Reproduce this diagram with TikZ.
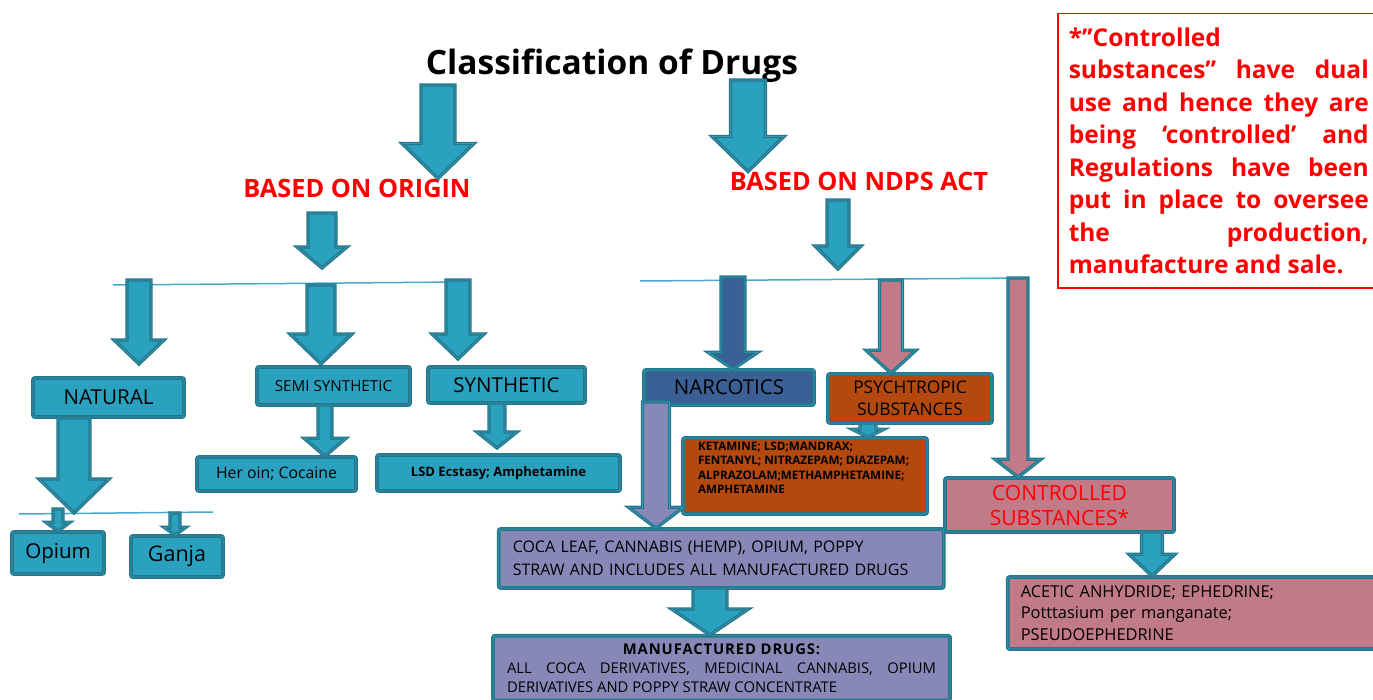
\documentclass[tikz,border=0pt]{standalone}
\usepackage{fontspec}
\setmainfont{Open Sans}
\usepackage{tikz}
\usetikzlibrary{calc}
\setlength{\parindent}{0pt}

\definecolor{tealline}{RGB}{33,120,140}
\definecolor{tealdbl}{RGB}{62,150,176}
\definecolor{tealfill}{RGB}{42,161,191}
\definecolor{narcblue}{RGB}{58,96,150}
\definecolor{lavender}{RGB}{136,136,184}
\definecolor{rust}{RGB}{180,73,15}
\definecolor{rosy}{RGB}{192,122,136}
\definecolor{barline}{RGB}{70,170,200}

\tikzstyle{box} = [draw=tealline, line width=1.5pt, double=tealdbl, double distance=0.8pt,
    rounded corners=2pt, inner sep=0pt, align=center]
\tikzstyle{fat} = [draw=tealline, line width=1.3pt, double=tealdbl, double distance=0.7pt]
\tikzstyle{bar} = [draw=barline, line width=1.5pt]

% block arrow: [fill]{from}{to}{shaft half width}{head half width}{head length}
\newcommand{\fatarrow}[6][tealfill]{%
  \filldraw[fat, fill=#1] let \p1=(#2), \p2=(#3) in
    (\x1-#4pt,\y1) -- (\x1-#4pt,\y2+#6pt) -- (\x1-#5pt,\y2+#6pt) -- (\x1,\y2)
    -- (\x1+#5pt,\y2+#6pt) -- (\x1+#4pt,\y2+#6pt) -- (\x1+#4pt,\y1) -- cycle;}

\begin{document}
\begin{tikzpicture}[x=1pt,y=-1pt]
\clip (0,0) rectangle (1373,700);
\fill[white] (0,0) rectangle (1373,700);

% headings
\node[inner sep=0pt, font=\fontsize{33.5}{38}\selectfont\bfseries] (title) at (612,66) {Classification of Drugs};
\node[inner sep=0pt, text=red, font=\fontsize{25.3}{30}\selectfont\bfseries] (origin) at (357,188) {BASED ON ORIGIN};
\node[inner sep=0pt, text=red, font=\fontsize{25.3}{30}\selectfont\bfseries] (ndps) at (859,181) {BASED ON NDPS ACT};

% bars
\coordinate (lb1) at (113,285); \coordinate (lb2) at (460,282);
\coordinate (rb1) at (640,281); \coordinate (rb2) at (1025,278);
\coordinate (nb1) at (19,514);  \coordinate (nb2) at (213,512);
\draw[bar] (lb1) -- (lb2);
\draw[bar] (rb1) -- (rb2);
\draw[bar] (nb1) -- (nb2);

% based on origin
\node[box, fill=tealfill, minimum width=151pt, minimum height=39pt,
    font=\fontsize{20.6}{24}\selectfont] (natural) at (108.5,397.5) {NATURAL};
\node[box, fill=tealfill, minimum width=153pt, minimum height=38pt,
    font=\fontsize{15.2}{18}\selectfont] (semi) at (333.5,386) {SEMI SYNTHETIC};
\node[box, fill=tealfill, minimum width=157pt, minimum height=36pt,
    font=\fontsize{20.5}{22}\selectfont] (synth) at (506.5,385) {SYNTHETIC};
\node[box, fill=tealfill, minimum width=92pt, minimum height=42pt,
    font=\fontsize{20.5}{24}\selectfont] (opium) at (58,553) {Opium};
\node[box, fill=tealfill, minimum width=92pt, minimum height=41pt,
    font=\fontsize{21.5}{24}\selectfont] (ganja) at (177,556.5) {Ganja};
\node[box, fill=tealfill, minimum width=159pt, minimum height=34pt,
    font=\fontsize{15.8}{19}\selectfont] (heroin) at (276.5,474) {Her oin; Cocaine};
\node[box, fill=tealfill, minimum width=243pt, minimum height=36pt,
    font=\fontsize{13}{17}\selectfont\bfseries] (lsd) at (498.5,473) {LSD Ecstasy; Amphetamine};

% based on ndps act
\node[box, fill=narcblue, minimum width=170pt, minimum height=35pt,
    font=\fontsize{20.5}{22}\selectfont] (narc) at (729,387.5) {NARCOTICS};
\node[box, fill=rust, minimum width=164pt, minimum height=49pt,
    font=\fontsize{17.4}{22.5}\selectfont] (psych) at (910,398.5) {PSYCHTROPIC\\SUBSTANCES};
\node[box, fill=rust, inner xsep=15pt, inner ysep=4pt,
    font=\fontsize{11.7}{14.3}\selectfont\bfseries] (ket) at (805,476)
    {\parbox[c][68pt][t]{214pt}{\raggedright KETAMINE; LSD;MANDRAX;\\ FENTANYL; NITRAZEPAM; DIAZEPAM;\\
     ALPRAZOLAM;METHAMPHETAMINE;\\ AMPHETAMINE}};
\node[box, fill=rosy, minimum width=229pt, minimum height=54pt, text=red,
    font=\fontsize{21}{25}\selectfont] (contr) at (1059.5,505) {CONTROLLED\\SUBSTANCES*};
\node[box, fill=rosy, anchor=west, text width=350pt, align=left, inner xsep=13pt,
    minimum height=72pt, font=\fontsize{16.4}{21.5}\selectfont] (acetic) at (1007,613)
    {ACETIC ANHYDRIDE; EPHEDRINE;\\ Potttasium per manganate;\\ PSEUDOEPHEDRINE};
\node[box, fill=lavender, anchor=west, text width=417pt, align=left, inner xsep=14pt,
    minimum height=59pt, font=\fontsize{16}{23}\selectfont] (coca) at (498,558.5)
    {COCA LEAF, CANNABIS (HEMP), OPIUM, POPPY\\ STRAW AND INCLUDES ALL MANUFACTURED DRUGS};
\node[box, fill=lavender, anchor=north, text width=429pt, align=justify, inner xsep=14pt,
    inner ysep=8pt, font=\fontsize{14.8}{19}\selectfont] (manuf) at (721.5,635)
    {\makebox[429pt]{\bfseries\addfontfeature{LetterSpace=6}MANUFACTURED DRUGS:}\\
     ALL COCA DERIVATIVES, MEDICINAL CANNABIS, OPIUM\linebreak DERIVATIVES AND POPPY STRAW CONCENTRATE};

% arrow ends
\coordinate (t1) at (438,85);      \coordinate (t2) at (748,80);
\coordinate (o1) at (322,213);     \coordinate (o2) at (322,268);
\coordinate (n1) at (838,200);     \coordinate (n2) at (838,269);
\coordinate (lb-nat) at (139,280); \coordinate (nat-in) at (139,364);
\coordinate (lb-semi) at (321,285);\coordinate (semi-in) at (321,364);
\coordinate (lb-syn) at (458,280); \coordinate (syn-in) at (458,359);
\coordinate (nat-out) at (74,418); \coordinate (nb-nat) at (74,513);
\coordinate (nb-op) at (58,509);   \coordinate (nb-ga) at (175,513);
\coordinate (semi-out) at (325,405);
\coordinate (syn-out) at (497,403);\coordinate (lsd-in) at (497,448);
\coordinate (rb-nar) at (733,277); \coordinate (rb-psy) at (891,280);
\coordinate (rb-con) at (1018,278);
\coordinate (psy-out) at (868,423);\coordinate (nar-out) at (656,402);
\coordinate (coca-out) at (710,588);\coordinate (con-out) at (1152,532);

% block arrows
\fatarrow{t1}{origin.north}{17}{36}{35}
\fatarrow{t2}{ndps.north}{17.5}{36}{35}
\fatarrow{o1}{o2}{14}{25}{21}
\fatarrow{n1}{n2}{11}{23}{23}
\fatarrow{lb-nat}{nat-in}{12}{25}{24}
\fatarrow{lb-semi}{semi-in}{14}{31}{30}
\fatarrow{lb-syn}{syn-in}{12}{26}{25}
\fatarrow{nat-out}{nb-nat}{16}{35}{34}
\fatarrow{nb-op}{opium.north}{5}{12}{9}
\fatarrow{nb-ga}{ganja.north}{5}{11}{8}
\fatarrow{semi-out}{heroin.north}{7}{21}{18}
\fatarrow{syn-out}{lsd-in}{8}{20}{16}
\fatarrow[narcblue]{rb-nar}{narc.north}{12}{25}{17}
\fatarrow[rosy]{rb-psy}{psych.north}{11.5}{25}{23}
\fatarrow[rosy]{rb-con}{contr.north}{10}{23}{18}
\fatarrow{psy-out}{ket.north}{8}{16}{8}
\fatarrow[lavender]{nar-out}{coca.north}{13.5}{27.5}{21}
\fatarrow{coca-out}{manuf.north}{17}{38.5}{26}
\fatarrow{con-out}{acetic.north}{10.5}{23}{22}

% note
\node[draw=red, line width=1.5pt, fill=white, anchor=north west, text width=300pt,
    align=justify, inner xsep=11pt, inner ysep=14pt, text=red,
    font=\fontsize{24.5}{32.5}\selectfont\bfseries] (note) at (1057,13)
    {*’’Controlled\newline substances’’ have dual\linebreak use and hence they are\linebreak
     being ‘controlled’ and\linebreak Regulations have been\linebreak put in place to oversee\linebreak
     the production,\linebreak manufacture and sale.};
\end{tikzpicture}
\end{document}
